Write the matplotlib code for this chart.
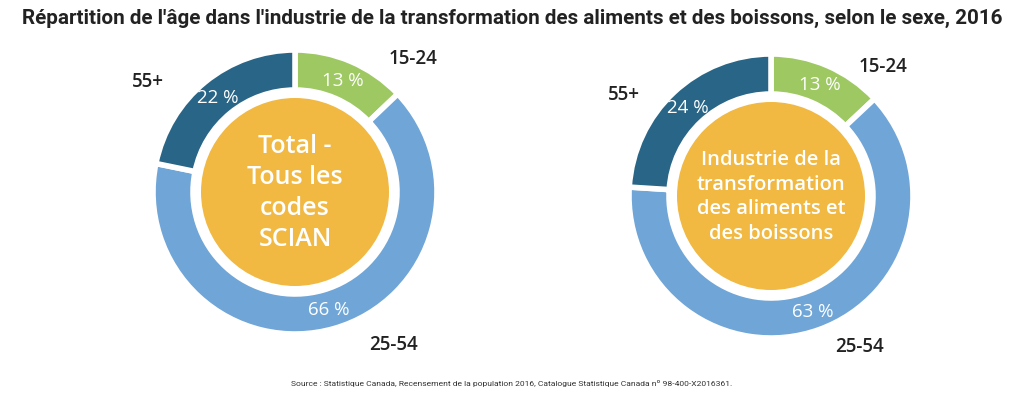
"""
Donuts: age distribution, all NAICS vs food & beverage manufacturing, 2016.
"""
import matplotlib
matplotlib.use('Agg')
import matplotlib.pyplot as plt
from matplotlib.patches import Circle

# data
AGE_GROUPS = ['15-24', '25-54', '55+']
TOTAL_PCT = [13, 66, 22]
FOOD_PCT = [13, 63, 24]
CENTER_LABELS = ['Total -\nTous les\ncodes\nSCIAN',
                 'Industrie de la\ntransformation\ndes aliments et\ndes boissons']

TITLE = "Répartition de l'âge dans l'industrie de la transformation des aliments et des boissons, selon le sexe, 2016"
SOURCE = ('Source : Statistique Canada, Recensement de la population 2016, '
          'Catalogue Statistique Canada nº 98-400-X2016361.')

# style
COLORS = ['#9DC862', '#6FA5D7', '#286586']
ORANGE = '#F1B842'
FONT = 'Open Sans'

# layout in pixel coords (figure is 1024 x 402)
CENTERS = [(295, 193), (771, 197)]
RADIUS = 142
RING = 40
INNER = 94
CENTER_FS = [18, 14.5]
CENTER_LS = [1.3, 1.3]
# outer label positions relative to donut centre
LABEL_OFFSETS = [
    {'15-24': (118, -134), '25-54': (98, 152), '55+': (-147, -111)},
    {'15-24': (112, -130), '25-54': (89, 150), '55+': (-147, -102)},
]

fig = plt.figure(figsize=(10.24, 4.02), dpi=100)
ax = fig.add_axes([0, 0, 1, 1])

for i, vals in enumerate([TOTAL_PCT, FOOD_PCT]):
    cx, cy = CENTERS[i]
    wedges, _, autotexts = ax.pie(
        vals, colors=COLORS, startangle=90, counterclock=False,
        center=(cx, -cy), radius=RADIUS, autopct='%d %%',
        pctdistance=0.86, labels=None, normalize=True,
        wedgeprops=dict(width=RING, edgecolor='white', linewidth=4),
        textprops=dict(color='white', fontsize=13.5, family=FONT))
    for t, v in zip(autotexts, vals):
        t.set_text(f'{v} %')
    ax.add_patch(Circle((cx, -cy), INNER, facecolor=ORANGE, edgecolor='none'))
    ax.text(cx, -cy, CENTER_LABELS[i], ha='center', va='center',
            color='white', fontsize=CENTER_FS[i], family=FONT,
            fontweight='semibold', linespacing=CENTER_LS[i])
    for grp in AGE_GROUPS:
        dx, dy = LABEL_OFFSETS[i][grp]
        ax.text(cx + dx, -(cy + dy), grp, ha='center', va='center',
                fontsize=13.5, family=FONT, fontweight='semibold', color='#222222')

ax.set_xlim(0, 1024)
ax.set_ylim(-402, 0)
ax.set_aspect('equal')
ax.axis('off')

fig.text(0.5, 1 - 18 / 402, TITLE, ha='center', va='center', fontsize=14.9,
         family='Roboto', fontweight='bold', color='#222222')
fig.text(0.5, 1 - 384 / 402, SOURCE, ha='center', va='center', fontsize=6.1,
         family='Roboto', color='#333333')

plt.savefig('out.png', dpi=100)
plt.close()
